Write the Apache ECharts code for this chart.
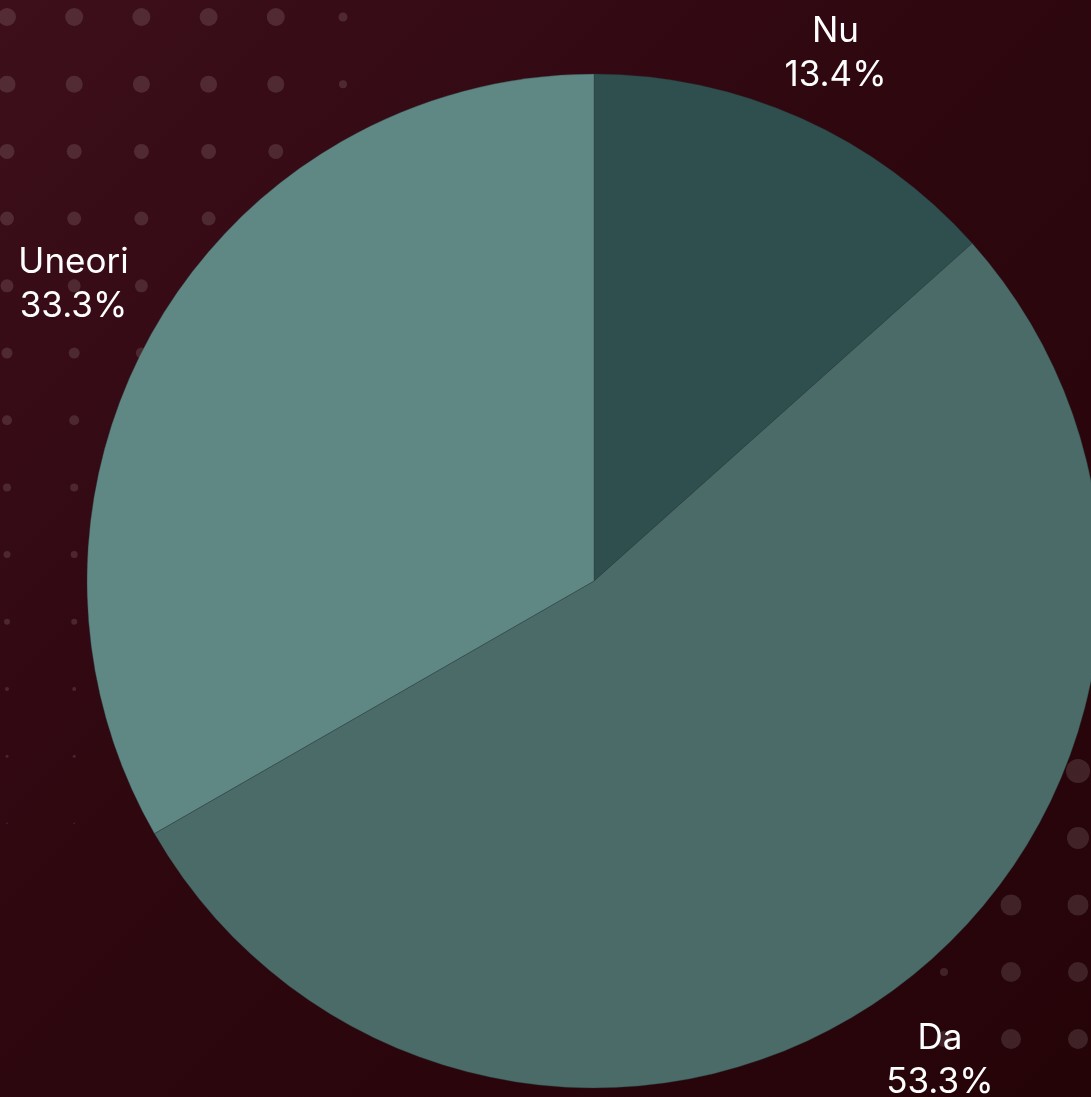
<!DOCTYPE html>
<html>
<head>
<meta charset="utf-8">
<script src="https://cdn.jsdelivr.net/npm/echarts@6/dist/echarts.min.js"></script>
<style>
html,body{margin:0;padding:0;width:1091px;height:1097px;overflow:hidden;background:#2c070e;}
#chart{width:1091px;height:1097px;}
</style>
</head>
<body>
<div id="chart"></div>
<script>
// Data
var categories = ['Nu', 'Da', 'Uneori'];
var values = [13.4, 53.3, 33.3];
var colors = ['#2f4f4e', '#4a6b68', '#5f8885'];
// label nudges (style only)
var labelOffsets = [[0, 12], [0, 0], [-9, 0]];

// Decorative background dots (not data)
var dots = [];
var stepTL = 67.2;
var rowRadii = [9, 8.5, 7.5, 7, 6.5, 5.5, 5, 4, 3.5, 3, 2, 1.5, 0.8];
var rowCols = [6, 6, 5, 4, 3, 3, 2, 2, 2, 2, 2, 2, 2];
for (var j = 0; j < rowRadii.length; j++) {
  for (var i = 0; i < rowCols[j]; i++) {
    var r = rowRadii[j];
    if (i === 5) r = j === 0 ? 4.5 : 4;
    dots.push({cx: 7 + stepTL * i, cy: 17 + stepTL * j, r: r});
  }
}
var brDots = [
  [1078, 771, 12], [1078, 838, 11], [1011, 905, 10.5], [1078, 905, 10.5],
  [944, 972, 4], [1011, 972, 10], [1078, 972, 10],
  [944, 1039, 8], [1011, 1039, 10], [1078, 1039, 10]
];
brDots.forEach(function (d) { dots.push({cx: d[0], cy: d[1], r: d[2]}); });

var graphics = [{
  type: 'rect', z: -10, silent: true,
  shape: {x: 0, y: 0, width: 1091, height: 1097},
  style: {
    fill: new echarts.graphic.LinearGradient(0, 0, 1, 1, [
      {offset: 0, color: '#3d0f1b'},
      {offset: 0.45, color: '#2e070f'},
      {offset: 1, color: '#250408'}
    ])
  }
}];
dots.forEach(function (d) {
  graphics.push({
    type: 'circle', z: -9, silent: true,
    shape: {cx: d.cx, cy: d.cy, r: d.r},
    style: {fill: 'rgba(255,255,255,0.12)'}
  });
});

var chart = echarts.init(document.getElementById('chart'), null, {renderer: 'canvas'});
var pieData = categories.map(function (c, i) {
  return {name: c, value: values[i], itemStyle: {color: colors[i]}};
});
var labelData = categories.map(function (c, i) {
  return {name: c, value: values[i], label: {offset: labelOffsets[i]}};
});
chart.setOption({
  backgroundColor: 'transparent',
  animation: false,
  graphic: graphics,
  series: [{
    type: 'pie',
    center: [594, 581],
    radius: [0, 507],
    startAngle: 90,
    clockwise: true,
    silent: true,
    label: {show: false},
    labelLine: {show: false},
    itemStyle: {borderWidth: 0.6, borderColor: 'rgba(40,60,60,0.6)'},
    data: pieData
  }, {
    type: 'pie',
    center: [594, 581],
    radius: [0, 1176],
    startAngle: 90,
    clockwise: true,
    silent: true,
    z: 5,
    itemStyle: {color: 'rgba(0,0,0,0)'},
    labelLine: {show: false},
    label: {
      show: true,
      position: 'inside',
      rotate: 0,
      color: '#ffffff',
      fontFamily: 'Inter, "Noto Sans", sans-serif',
      fontSize: 35,
      lineHeight: 44,
      align: 'center',
      formatter: function (p) { return p.name + '\n' + p.value.toFixed(1) + '%'; }
    },
    data: labelData
  }]
});
</script>
</body>
</html>
